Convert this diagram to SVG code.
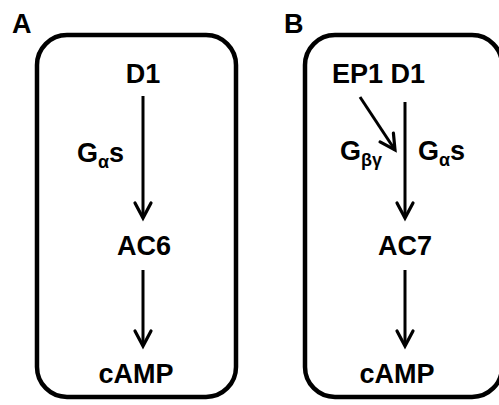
<svg xmlns="http://www.w3.org/2000/svg" width="499" height="405" viewBox="0 0 499 405">
<defs>
<marker id="chev" markerUnits="userSpaceOnUse" markerWidth="24" markerHeight="24" viewBox="-18 -12 24 24" refX="0" refY="0" orient="auto" overflow="visible">
<path d="M -15 -8 L 0 0 L -15 8" fill="none" stroke="#000" stroke-width="3.2" stroke-linecap="round" stroke-linejoin="miter"/>
</marker>
</defs>
<style>
text{font-family:"Liberation Sans",Arial,sans-serif;font-weight:bold;fill:#000}
.lbl{font-size:27px}
.n{font-size:27px;text-anchor:middle}
.sub{font-size:18px}
.box{fill:#fff;stroke:#000;stroke-width:4.5}
.arr{stroke:#000;stroke-width:3;fill:none;marker-end:url(#chev)}
</style>
<rect width="499" height="405" fill="#fff"/>
<g id="panelA">
<text class="lbl" x="12" y="33">A</text>
<rect class="box" x="37" y="35" width="199" height="362" rx="30" ry="30"/>
</g>
<g id="panelB">
<text class="lbl" x="284" y="33">B</text>
<rect class="box" x="305" y="35" width="197" height="362" rx="30" ry="30"/>
</g>
<g id="connectors">
<line class="arr" x1="143" y1="96" x2="143" y2="218"/>
<line class="arr" x1="143" y1="270" x2="143" y2="346"/>
<line class="arr" x1="405" y1="102" x2="405" y2="218"/>
<line class="arr" x1="405" y1="270" x2="405" y2="346"/>
<line class="arr" x1="360" y1="97" x2="395" y2="150"/>
</g>
<g id="A-D1"><text class="n" x="143" y="83">D1</text></g>
<g id="A-Gas"><text x="77" y="162" class="lbl">G<tspan class="sub" dy="6">α</tspan><tspan dy="-6">s</tspan></text></g>
<g id="A-AC6"><text class="n" x="144" y="255">AC6</text></g>
<g id="A-cAMP"><text class="n" x="136" y="383">cAMP</text></g>
<g id="B-EP1D1"><text x="332" y="83" class="lbl">EP1 D1</text></g>
<g id="B-Gbg"><text x="340" y="160" class="lbl">G<tspan class="sub" dy="6">βγ</tspan></text></g>
<g id="B-Gas"><text x="418" y="160" class="lbl">G<tspan class="sub" dy="6">α</tspan><tspan dy="-6">s</tspan></text></g>
<g id="B-AC7"><text class="n" x="405" y="255">AC7</text></g>
<g id="B-cAMP"><text class="n" x="397" y="383">cAMP</text></g>
</svg>
